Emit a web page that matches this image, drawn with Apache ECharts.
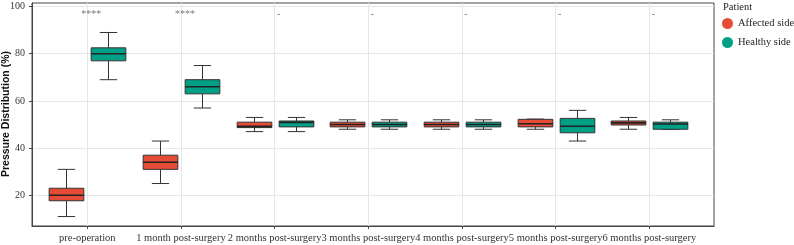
<!DOCTYPE html>
<html>
<head>
<meta charset="utf-8">
<script src="https://cdn.jsdelivr.net/npm/echarts@6/dist/echarts.min.js"></script>
<style>
  html, body { margin: 0; padding: 0; background: #fff; }
  #chart { width: 794px; height: 245px; }
</style>
</head>
<body>
<div id="chart"></div>
<script>
// categories (x axis)
const categories = [
  'pre-operation',
  '1 month post-surgery',
  '2 months post-surgery',
  '3 months post-surgery',
  '4 months post-surgery',
  '5 months post-surgery',
  '6 months post-surgery'
]
// [min, Q1, median, Q3, max] per category
const affectedSide = [
  [11, 17.7, 20, 23, 31],
  [25, 31, 34, 37, 43],
  [47, 48.7, 49.2, 51, 53],
  [48, 49, 50, 51, 52],
  [48, 49, 50, 51, 52],
  [48, 49, 50.3, 52.2, 52.3],
  [48, 49.8, 50.7, 51.5, 53]
]
const healthySide = [
  [69, 77, 80, 82.5, 89],
  [57, 63, 66, 69, 75],
  [47, 49, 50.9, 51.5, 53],
  [48, 49, 50, 51, 52],
  [48, 49, 50, 51, 52],
  [43, 46.5, 49.3, 52.6, 56],
  [48, 48, 50.2, 51, 52]
]
const significance = ['****', '****', '-', '-', '-', '-', '-']
const sigLevel = 97.5
const yTicks = [20, 40, 60, 80, 100]

const affectedColor = '#E64B35'
const healthyColor = '#00A087'
const serif = '"Liberation Serif", "DejaVu Serif", serif'

const myChart = echarts.init(document.getElementById('chart'), null, { renderer: 'canvas' })

// draw one box (whiskers with half-width caps, box, median) through the axes
function boxRenderer (offsetRatio, color) {
  return function (params, api) {
    const x = api.value(0)
    const unit = api.size([1, 0])[0]
    const half = unit * 0.185
    const cap = half / 2
    const pMin = api.coord([x, api.value(1)])
    const pQ1 = api.coord([x, api.value(2)])
    const pMed = api.coord([x, api.value(3)])
    const pQ3 = api.coord([x, api.value(4)])
    const pMax = api.coord([x, api.value(5)])
    const cx = Math.round(pMin[0] + unit * offsetRatio) + 0.5
    const line = { stroke: '#333', lineWidth: 1 }
    return {
      type: 'group',
      children: [
        { type: 'line', shape: { x1: cx, y1: pMax[1], x2: cx, y2: pQ3[1] }, style: line },
        { type: 'line', shape: { x1: cx, y1: pQ1[1], x2: cx, y2: pMin[1] }, style: line },
        { type: 'line', shape: { x1: cx - cap, y1: pMax[1], x2: cx + cap, y2: pMax[1] }, style: line },
        { type: 'line', shape: { x1: cx - cap, y1: pMin[1], x2: cx + cap, y2: pMin[1] }, style: line },
        {
          type: 'rect',
          shape: { x: cx - half, y: pQ3[1], width: half * 2, height: pQ1[1] - pQ3[1] },
          style: { fill: color, stroke: '#333', lineWidth: 1 }
        },
        { type: 'line', shape: { x1: cx - half, y1: pMed[1], x2: cx + half, y2: pMed[1] }, style: { stroke: '#222', lineWidth: 1.6 } }
      ]
    }
  }
}

const toData = (arr) => arr.map((v, i) => [i].concat(v))
const xIdx = categories.map((c, i) => i)

const option = {
  backgroundColor: '#fff',
  animation: false,
  title: {
    text: 'Patient',
    left: 723,
    top: 2,
    padding: 0,
    textStyle: { fontFamily: serif, fontSize: 10.5, fontWeight: 'normal', color: '#222' }
  },
  legend: {
    orient: 'vertical',
    left: 722,
    top: 18,
    padding: 0,
    itemWidth: 11,
    itemHeight: 11,
    itemGap: 8,
    icon: 'circle',
    data: ['Affected side', 'Healthy side'],
    textStyle: { fontFamily: serif, fontSize: 10.5, color: '#222' }
  },
  graphic: [
    {
      type: 'text',
      x: 6,
      y: 114,
      rotation: Math.PI / 2,
      style: {
        text: 'Pressure Distribution (%)',
        fontFamily: '"Liberation Sans", Arial, sans-serif',
        fontWeight: 'bold',
        fontSize: 10.5,
        fill: '#111',
        align: 'center',
        verticalAlign: 'middle'
      }
    }
  ],
  grid: {
    left: 32,
    right: 80,
    top: 3,
    bottom: 19,
    show: true,
    borderColor: '#444',
    borderWidth: 1
  },
  xAxis: {
    type: 'value',
    min: -0.59,
    max: 6.69,
    axisLine: { show: true, onZero: false, lineStyle: { color: '#444' } },
    axisTick: { show: true, length: 3, customValues: xIdx, lineStyle: { color: '#444' } },
    axisLabel: {
      customValues: xIdx,
      formatter: (v) => categories[Math.round(v)],
      fontFamily: serif,
      fontSize: 10.5,
      color: '#333',
      margin: 7,
      hideOverlap: false
    },
    splitLine: { show: true, lineStyle: { color: '#e6e6e6', width: 1 } }
  },
  yAxis: {
    type: 'value',
    min: 7,
    max: 101.5,
    axisLine: { show: true, onZero: false, lineStyle: { color: '#444' } },
    axisTick: { show: true, length: 3, customValues: yTicks, lineStyle: { color: '#444' } },
    axisLabel: {
      customValues: yTicks,
      fontFamily: serif,
      fontSize: 10,
      color: '#333',
      margin: 7
    },
    splitLine: { show: true, lineStyle: { color: '#e6e6e6', width: 1 } }
  },
  series: [
    {
      name: 'Affected side',
      type: 'custom',
      itemStyle: { color: affectedColor },
      encode: { x: 0, y: [1, 2, 3, 4, 5] },
      renderItem: boxRenderer(-0.224, affectedColor),
      data: toData(affectedSide)
    },
    {
      name: 'Healthy side',
      type: 'custom',
      itemStyle: { color: healthyColor },
      encode: { x: 0, y: [1, 2, 3, 4, 5] },
      renderItem: boxRenderer(0.224, healthyColor),
      data: toData(healthySide)
    },
    {
      name: 'significance',
      type: 'scatter',
      symbolSize: 0,
      silent: true,
      data: significance.map((s, i) => [i, sigLevel]),
      label: {
        show: true,
        position: 'inside',
        offset: [4, 2],
        formatter: (p) => significance[p.dataIndex],
        fontFamily: serif,
        fontSize: 10,
        color: '#555'
      }
    }
  ]
}

myChart.setOption(option)
window.addEventListener('resize', function () {
  myChart.resize()
})
</script>
</body>
</html>
